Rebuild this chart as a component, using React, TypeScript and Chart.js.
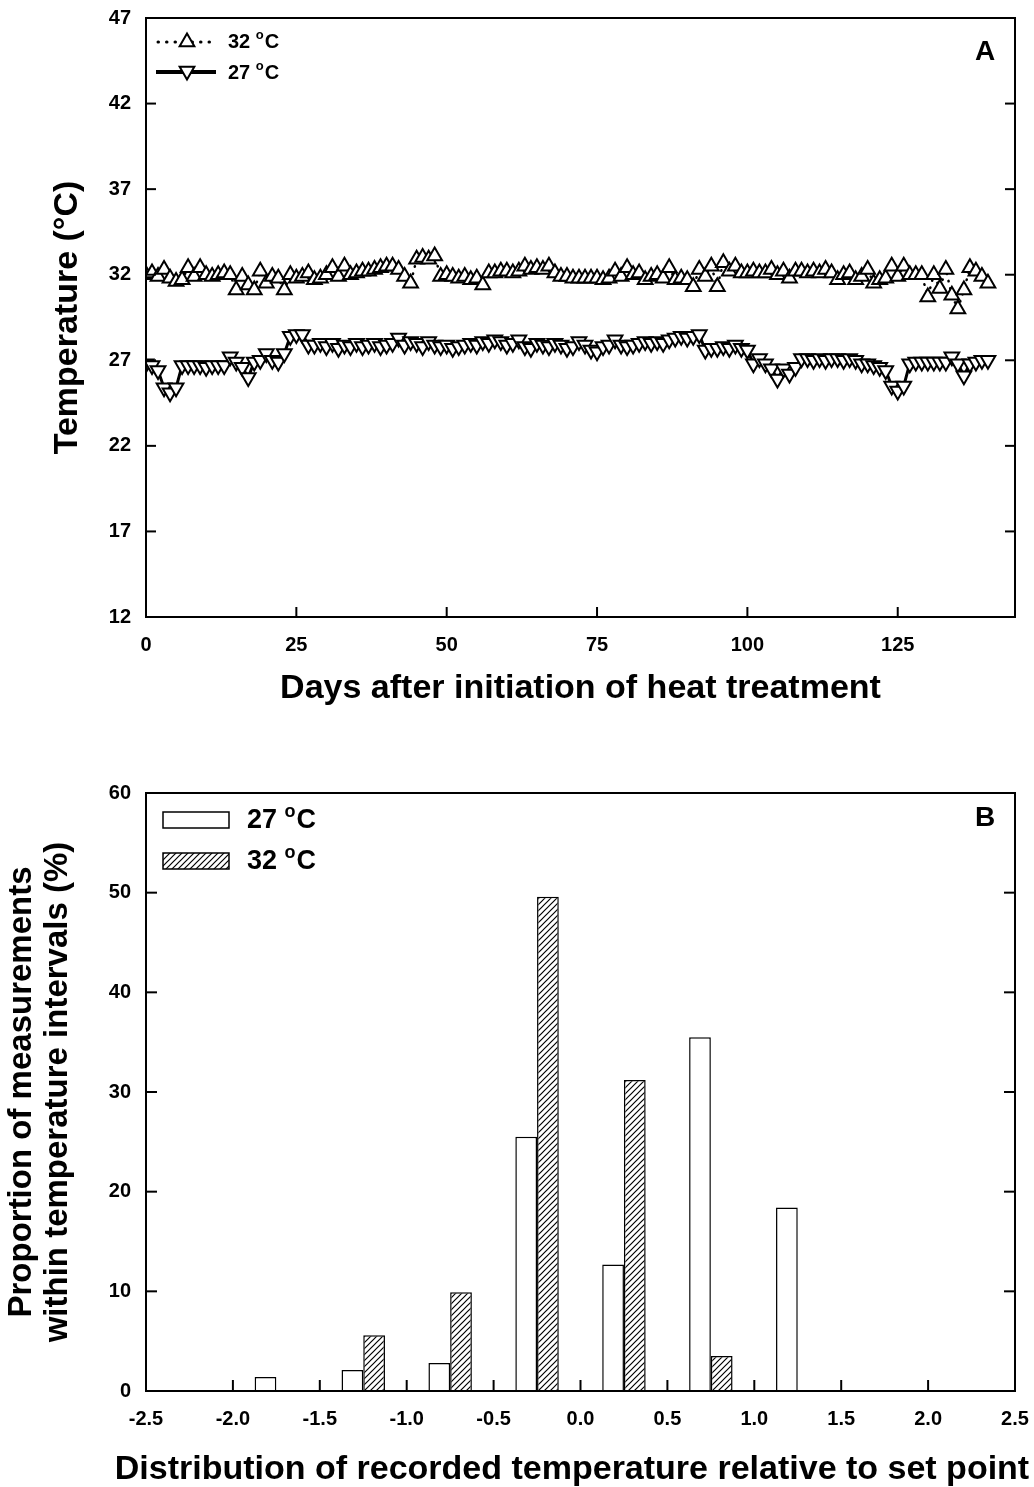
import React, { useEffect, useRef } from 'react';
import { Chart, registerables } from 'chart.js';
Chart.register(...registerables);

// ---------- Panel A data (daily mean temperature, days 0..140) ----------
const days: number[] = Array.from({ length: 141 }, (_, i) => i);
const temp32: number[] = [
  32.0, 32.1, 31.9, 32.3, 31.8, 31.6, 31.7, 32.4, 31.9, 32.4,
  32.0, 31.9, 32.0, 32.1, 32.0, 31.1, 31.9, 31.4, 31.1, 32.2,
  31.5, 31.9, 31.8, 31.1, 32.0, 31.8, 31.9, 32.1, 31.7, 31.8,
  32.0, 32.4, 31.9, 32.5, 32.0, 32.1, 32.2, 32.2, 32.3, 32.4,
  32.5, 32.5, 32.3, 31.9, 31.5, 32.9, 33.0, 32.9, 33.1, 31.9,
  32.0, 31.9, 31.8, 31.9, 31.7, 31.8, 31.4, 32.1, 32.1, 32.2,
  32.2, 32.1, 32.2, 32.5, 32.3, 32.4, 32.3, 32.5, 32.1, 31.9,
  31.9, 31.8, 31.8, 31.8, 31.8, 31.8, 31.7, 31.8, 32.2, 31.9,
  32.4, 32.0, 32.1, 31.7, 31.9, 32.0, 31.8, 32.4, 31.7, 31.8,
  31.7, 31.3, 32.3, 31.9, 32.5, 31.3, 32.7, 32.2, 32.5, 32.1,
  32.1, 32.2, 32.1, 32.1, 32.3, 32.0, 32.2, 31.8, 32.2, 32.2,
  32.1, 32.2, 32.1, 32.3, 32.1, 31.7, 32.0, 32.1, 31.7, 31.9,
  32.3, 31.5, 31.7, 31.8, 32.5, 31.9, 32.5, 32.0, 32.0, 32.0,
  30.7, 32.0, 31.2, 32.3, 30.8, 30.0, 31.1, 32.4, 32.2, 31.9,
  31.5,
];
const temp27: number[] = [
  26.8, 26.7, 26.4, 25.4, 25.1, 25.4, 26.7, 26.7, 26.7, 26.7,
  26.6, 26.7, 26.7, 26.7, 27.2, 26.9, 26.6, 26.0, 26.9, 27.0,
  27.4, 27.0, 26.9, 27.4, 28.4, 28.5, 28.5, 27.9, 27.9, 28.0,
  27.8, 28.0, 27.7, 27.9, 27.8, 28.0, 27.8, 27.9, 28.0, 27.8,
  27.9, 28.0, 28.3, 27.9, 28.1, 28.0, 27.8, 28.1, 27.9, 27.8,
  27.9, 27.7, 27.8, 27.9, 28.0, 27.9, 28.1, 28.0, 28.2, 28.1,
  27.9, 28.0, 28.2, 27.8, 27.7, 28.0, 27.9, 27.8, 28.0, 27.9,
  27.7, 27.8, 28.1, 27.9, 27.6, 27.5, 27.8, 27.9, 28.2, 27.9,
  27.8, 27.9, 28.0, 28.1, 28.0, 28.1, 28.0, 28.2, 28.3, 28.4,
  28.3, 28.4, 28.5, 27.6, 27.7, 27.7, 27.8, 27.7, 27.9, 27.7,
  27.6, 26.8, 27.1, 26.8, 26.5, 25.9, 26.5, 26.2, 26.6, 27.1,
  27.1, 27.0, 27.1, 27.0, 27.1, 27.1, 27.0, 27.1, 27.0, 26.8,
  26.8, 26.7, 26.6, 26.4, 25.5, 25.2, 25.5, 26.8, 26.9, 26.9,
  26.9, 26.9, 26.9, 26.9, 27.2, 26.8, 26.1, 26.8, 26.9, 27.0,
  27.0,
];
const xTicksA: number[] = [0, 25, 50, 75, 100, 125];
const yTicksA: number[] = [12, 17, 22, 27, 32, 37, 42, 47];

// ---------- Panel B data ----------
const binCenters: number[] = [-1.75, -1.25, -0.75, -0.25, 0.25, 0.75, 1.25];
const pct27: number[] = [1.4, 2.1, 2.8, 25.5, 12.7, 35.5, 18.4];
const pct32: number[] = [0, 5.6, 9.9, 49.6, 31.2, 3.5, 0];
const xTicksB: number[] = [-2.5, -2.0, -1.5, -1.0, -0.5, 0.0, 0.5, 1.0, 1.5, 2.0, 2.5];
const yTicksB: number[] = [0, 10, 20, 30, 40, 50, 60];
const xTitleB = 'Distribution of recorded temperature relative to set point';

const FONT = "'Liberation Sans', Arial, Helvetica, sans-serif";
const W = 1034;
const HA = 735;
const HB = 752;

function line(ctx: CanvasRenderingContext2D, x1: number, y1: number, x2: number, y2: number) {
  ctx.beginPath();
  ctx.moveTo(x1, y1);
  ctx.lineTo(x2, y2);
  ctx.stroke();
}

function drawDegLabel(ctx: CanvasRenderingContext2D, x: number, y: number, num: string, size: number) {
  ctx.fillStyle = '#000';
  ctx.textBaseline = 'middle';
  ctx.textAlign = 'left';
  ctx.font = `bold ${size}px ${FONT}`;
  const t1 = num + ' ';
  ctx.fillText(t1, x, y);
  const w1 = ctx.measureText(t1).width;
  ctx.font = `bold ${Math.round(size * 0.66)}px ${FONT}`;
  ctx.fillText('o', x + w1, y - size * 0.33);
  const w2 = ctx.measureText('o').width;
  ctx.font = `bold ${size}px ${FONT}`;
  ctx.fillText('C', x + w1 + w2 + 1, y);
}

function drawTri(ctx: CanvasRenderingContext2D, x: number, y: number, r: number, down: boolean) {
  ctx.beginPath();
  for (let k = 0; k < 3; k++) {
    const a = (down ? Math.PI : 0) + (k * 2 * Math.PI) / 3;
    const px = x + Math.sin(a) * r;
    const py = y - Math.cos(a) * r;
    if (k === 0) ctx.moveTo(px, py); else ctx.lineTo(px, py);
  }
  ctx.closePath();
  ctx.fillStyle = '#fff';
  ctx.fill();
  ctx.lineWidth = 2;
  ctx.strokeStyle = '#000';
  ctx.stroke();
}

function framePlugin(letter: string, letterY: number, tickLen: number) {
  return {
    id: 'frame' + letter,
    afterDraw(chart: any) {
      const { ctx, chartArea: a, scales } = chart;
      ctx.save();
      ctx.strokeStyle = '#000';
      ctx.lineWidth = 2;
      ctx.strokeRect(a.left, a.top, a.right - a.left, a.bottom - a.top);
      scales.y.ticks.forEach((t: any) => {
        const py = scales.y.getPixelForValue(t.value);
        line(ctx, a.left, py, a.left + tickLen, py);
        line(ctx, a.right, py, a.right - tickLen, py);
      });
      scales.x.ticks.forEach((t: any) => {
        const px = scales.x.getPixelForValue(t.value);
        line(ctx, px, a.bottom, px, a.bottom - tickLen);
      });
      ctx.fillStyle = '#000';
      ctx.font = `bold 28px ${FONT}`;
      ctx.textAlign = 'center';
      ctx.textBaseline = 'middle';
      ctx.fillText(letter, 985, letterY);
      ctx.restore();
    },
  };
}

const legendA = {
  id: 'legendA',
  afterDraw(chart: any) {
    const ctx: CanvasRenderingContext2D = chart.ctx;
    ctx.save();
    ctx.strokeStyle = '#000';
    ctx.lineWidth = 3;
    ctx.lineCap = 'round';
    ctx.setLineDash([0.5, 8]);
    line(ctx, 158, 42, 216, 42);
    ctx.setLineDash([]);
    drawTri(ctx, 187, 42, 8.5, false);
    drawDegLabel(ctx, 228, 42, '32', 20);
    ctx.lineCap = 'butt';
    ctx.lineWidth = 4;
    line(ctx, 156, 72, 216, 72);
    drawTri(ctx, 187, 71, 8.5, true);
    drawDegLabel(ctx, 228, 73, '27', 20);
    ctx.restore();
  },
};

function makeHatch(ctx: CanvasRenderingContext2D): CanvasPattern | string {
  const s = 6;
  const c = document.createElement('canvas');
  c.width = s;
  c.height = s;
  const g = c.getContext('2d');
  if (!g) return '#fff';
  g.fillStyle = '#fff';
  g.fillRect(0, 0, s, s);
  g.strokeStyle = '#000';
  g.lineWidth = 1.2;
  g.beginPath();
  g.moveTo(0, s);
  g.lineTo(s, 0);
  g.moveTo(-1, 1);
  g.lineTo(1, -1);
  g.moveTo(s - 1, s + 1);
  g.lineTo(s + 1, s - 1);
  g.stroke();
  return ctx.createPattern(c, 'repeat') || '#fff';
}

function legendB(hatch: CanvasPattern | string) {
  return {
    id: 'legendB',
    afterDraw(chart: any) {
      const ctx: CanvasRenderingContext2D = chart.ctx;
      const off = 735;
      ctx.save();
      ctx.lineWidth = 1.5;
      ctx.strokeStyle = '#000';
      ctx.fillStyle = '#fff';
      ctx.fillRect(163, 812 - off, 66, 16);
      ctx.strokeRect(163, 812 - off, 66, 16);
      ctx.fillStyle = hatch as any;
      ctx.fillRect(163, 853 - off, 66, 16);
      ctx.strokeRect(163, 853 - off, 66, 16);
      drawDegLabel(ctx, 247, 821 - off, '27', 27);
      drawDegLabel(ctx, 247, 862 - off, '32', 27);
      // x-axis title (drawn here so it may extend past the axis width)
      ctx.fillStyle = '#000';
      ctx.font = `bold 34px ${FONT}`;
      ctx.textAlign = 'center';
      ctx.textBaseline = 'middle';
      ctx.fillText(xTitleB, 572, 1470 - off);
      ctx.restore();
    },
  };
}

const tickFont = { family: FONT, size: 20, weight: 'bold' as const };

function ChartA() {
  const ref = useRef<HTMLCanvasElement>(null);
  useEffect(() => {
    if (!ref.current) return;
    const chart = new Chart(ref.current, {
      type: 'line',
      data: {
        datasets: [
          {
            label: '32 °C',
            data: days.map((d, i) => ({ x: d, y: temp32[i] })),
            borderColor: '#000',
            borderWidth: 2.5,
            borderDash: [0.5, 7],
            borderCapStyle: 'round',
            pointStyle: 'triangle',
            pointRadius: 8.5,
            pointBorderWidth: 2,
            pointBackgroundColor: '#fff',
            pointBorderColor: '#000',
            tension: 0,
          },
          {
            label: '27 °C',
            data: days.map((d, i) => ({ x: d, y: temp27[i] })),
            borderColor: '#000',
            borderWidth: 3,
            pointStyle: 'triangle',
            pointRotation: 180,
            pointRadius: 8.5,
            pointBorderWidth: 2,
            pointBackgroundColor: '#fff',
            pointBorderColor: '#000',
            tension: 0,
          },
        ],
      },
      options: {
        animation: false,
        responsive: false,
        layout: { padding: { top: 18, right: 19, left: 0, bottom: 0 } },
        scales: {
          x: {
            type: 'linear',
            min: 0,
            max: 144.5,
            afterBuildTicks: (s: any) => { s.ticks = xTicksA.map((v) => ({ value: v })); },
            ticks: { font: tickFont, color: '#000', padding: 16, maxRotation: 0, autoSkip: false },
            grid: { display: false, drawTicks: false },
            border: { display: false },
            title: {
              display: true,
              text: 'Days after initiation of heat treatment',
              color: '#000',
              font: { family: FONT, size: 34, weight: 'bold', lineHeight: 1.2 },
              padding: { top: 0, bottom: 26 },
            },
            afterFit: (s: any) => { s.height = 118; s.paddingLeft = 0; s.paddingRight = 0; },
          },
          y: {
            type: 'linear',
            min: 12,
            max: 47,
            afterBuildTicks: (s: any) => { s.ticks = yTicksA.map((v) => ({ value: v })); },
            ticks: { font: tickFont, color: '#000', padding: 15, autoSkip: false },
            grid: { display: false, drawTicks: false },
            border: { display: false },
            title: {
              display: true,
              text: 'Temperature (°C)',
              color: '#000',
              font: { family: FONT, size: 34, weight: 'bold', lineHeight: 1.2 },
              padding: { top: 47, bottom: 0 },
            },
            afterFit: (s: any) => { s.width = 146; s.paddingTop = 0; s.paddingBottom = 0; },
          },
        },
        plugins: { legend: { display: false }, tooltip: { enabled: false } },
      },
      plugins: [framePlugin('A', 52, 10), legendA],
    } as any);
    return () => chart.destroy();
  }, []);
  return <canvas ref={ref} width={W} height={HA} style={{ display: 'block' }} />;
}

function ChartB() {
  const ref = useRef<HTMLCanvasElement>(null);
  useEffect(() => {
    if (!ref.current) return;
    const ctx = ref.current.getContext('2d') as CanvasRenderingContext2D;
    const hatch = makeHatch(ctx);
    const chart = new Chart(ref.current, {
      type: 'bar',
      data: {
        datasets: [
          {
            label: '27 °C',
            data: binCenters.map((x, i) => ({ x, y: pct27[i] })),
            backgroundColor: '#fff',
            borderColor: '#000',
            borderWidth: 1.5,
          },
          {
            label: '32 °C',
            data: binCenters.map((x, i) => ({ x, y: pct32[i] })),
            backgroundColor: hatch as any,
            borderColor: '#000',
            borderWidth: 1.5,
          },
        ],
      },
      options: {
        animation: false,
        responsive: false,
        categoryPercentage: 0.5,
        barPercentage: 1,
        layout: { padding: { top: 58, right: 19, left: 0, bottom: 0 } },
        scales: {
          x: {
            type: 'linear',
            min: -2.5,
            max: 2.5,
            offset: false,
            afterBuildTicks: (s: any) => { s.ticks = xTicksB.map((v) => ({ value: v })); },
            ticks: {
              font: tickFont,
              color: '#000',
              padding: 16,
              maxRotation: 0,
              autoSkip: false,
              callback: (v: any) => Number(v).toFixed(1),
            },
            grid: { display: false, drawTicks: false, offset: false },
            border: { display: false },
            title: { display: false },
            afterFit: (s: any) => { s.height = 96; s.paddingLeft = 0; s.paddingRight = 0; },
          },
          y: {
            type: 'linear',
            min: 0,
            max: 60,
            afterBuildTicks: (s: any) => { s.ticks = yTicksB.map((v) => ({ value: v })); },
            ticks: { font: tickFont, color: '#000', padding: 15, autoSkip: false },
            grid: { display: false, drawTicks: false },
            border: { display: false },
            title: {
              display: true,
              text: ['Proportion of measurements', 'within temperature intervals (%)'],
              color: '#000',
              font: { family: FONT, size: 33, weight: 'bold', lineHeight: 1.09 },
              padding: { top: 4, bottom: 0 },
            },
            afterFit: (s: any) => { s.width = 146; s.paddingTop = 0; s.paddingBottom = 0; },
          },
        },
        plugins: { legend: { display: false }, tooltip: { enabled: false } },
      },
      plugins: [framePlugin('B', 818 - 735, 11), legendB(hatch)],
    } as any);
    return () => chart.destroy();
  }, []);
  return <canvas ref={ref} width={W} height={HB} style={{ display: 'block' }} />;
}

export default function App() {
  return (
    <div style={{ position: 'absolute', left: 0, top: 0, width: W, height: HA + HB, background: '#fff' }}>
      <ChartA />
      <ChartB />
    </div>
  );
}
